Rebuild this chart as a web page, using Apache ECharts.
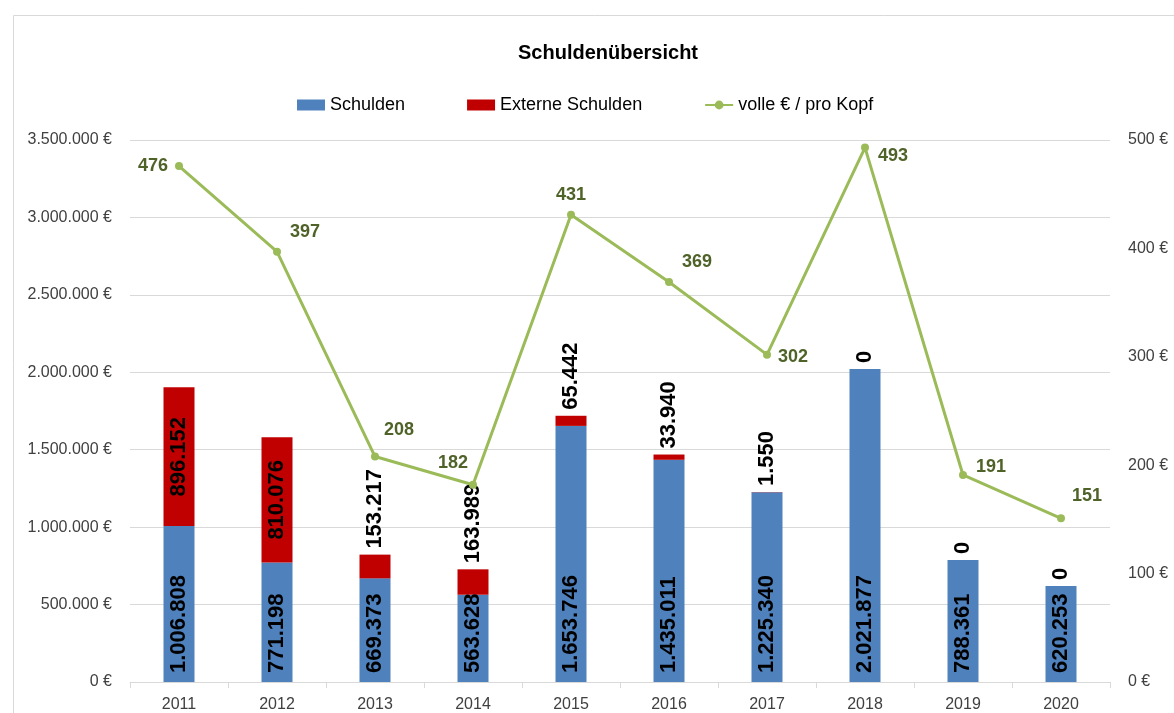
<!DOCTYPE html>
<html>
<head>
<meta charset="utf-8">
<script src="https://cdn.jsdelivr.net/npm/echarts@6/dist/echarts.min.js"></script>
<style>
  html, body { margin: 0; padding: 0; background: #fff; }
  #chart { width: 1174px; height: 713px; }
</style>
</head>
<body>
<div id="chart"></div>
<script>
// ── Data ──────────────────────────────────────────────────────────────────────
var years    = ['2011', '2012', '2013', '2014', '2015', '2016', '2017', '2018', '2019', '2020'];
var schulden = [1006808, 771198, 669373, 563628, 1653746, 1435011, 1225340, 2021877, 788361, 620253];
var extern   = [896152, 810076, 153217, 163989, 65442, 33940, 1550, 0, 0, 0];
var proKopf  = [476, 397, 208, 182, 431, 369, 302, 493, 191, 151];

// ── Look ──────────────────────────────────────────────────────────────────────
var C = {
  blue:  '#4f81bd',
  red:   '#c00000',
  green: '#9bbb59',
  dkgrn: '#4f6228',
  text:  '#000000',
  axis:  '#404040',
  grid:  '#d9d9d9'
};
var FONT = "'Liberation Sans', Arial, sans-serif";

// German thousands separator
function de(v) {
  return String(Math.round(v)).replace(/\B(?=(\d{3})+(?!\d))/g, '.');
}

// per-point label placement for the line (offsets in px)
var lineLabelPos = [
  { position: 'left',  offset: [-2, 0] },
  { position: 'right', offset: [4, -20] },
  { position: 'right', offset: [0, -26] },
  { position: 'top',   offset: [-20, -4] },
  { position: 'top',   offset: [0, -2] },
  { position: 'right', offset: [4, -20] },
  { position: 'right', offset: [2, 2] },
  { position: 'right', offset: [4, 8] },
  { position: 'right', offset: [4, -8] },
  { position: 'right', offset: [2, -22] }
];

var lineData = proKopf.map(function(v, i) {
  return { value: v, label: lineLabelPos[i] };
});

var externData = extern.map(function(v, i) {
  if (i < 2) {
    return { value: v, label: { position: 'inside', align: 'center', verticalAlign: 'middle' } };
  }
  return { value: v, label: { position: 'top', align: 'left', verticalAlign: 'middle', distance: 6 } };
});

var chart = echarts.init(document.getElementById('chart'), null, { renderer: 'canvas' });

chart.setOption({
  animation: false,
  backgroundColor: '#fff',
  textStyle: { fontFamily: FONT },
  graphic: [{
    type: 'rect',
    left: 11, top: 13,
    shape: { width: 1300, height: 900 },
    style: { fill: 'none', stroke: C.grid, lineWidth: 1 },
    silent: true
  }],
  title: {
    text: 'Schuldenübersicht',
    left: 513, top: 38,
    textStyle: { fontFamily: FONT, fontSize: 20, fontWeight: 'bold', color: C.text }
  },
  legend: {
    left: 292, top: 91,
    itemGap: 62,
    itemWidth: 28, itemHeight: 11,
    textStyle: { fontFamily: FONT, fontSize: 18, color: C.text },
    data: [
      { name: 'Schulden', icon: 'rect' },
      { name: 'Externe Schulden', icon: 'rect' },
      { name: 'volle € / pro Kopf' }
    ]
  },
  grid: { left: 130, right: 64, top: 140, bottom: 28, containLabel: false },
  xAxis: {
    type: 'category',
    data: years,
    boundaryGap: true,
    axisLine: { lineStyle: { color: C.grid } },
    axisTick: { show: true, length: 6, lineStyle: { color: C.grid } },
    axisLabel: { color: C.axis, fontSize: 16, margin: 15, fontFamily: FONT }
  },
  yAxis: [{
    type: 'value',
    min: 0, max: 3500000, interval: 500000,
    axisLine: { show: false },
    axisTick: { show: false },
    splitLine: { lineStyle: { color: C.grid } },
    axisLabel: {
      color: C.axis, fontSize: 16, margin: 18, fontFamily: FONT,
      formatter: function(v) { return de(v) + ' €'; }
    }
  }, {
    type: 'value',
    min: 0, max: 500, interval: 100,
    axisLine: { show: false },
    axisTick: { show: false },
    splitLine: { show: false },
    axisLabel: {
      color: C.axis, fontSize: 16, margin: 18, fontFamily: FONT,
      formatter: function(v) { return v + ' €'; }
    }
  }],
  series: [{
    name: 'Schulden',
    type: 'bar',
    stack: 'debt',
    barWidth: 31,
    data: schulden,
    itemStyle: { color: C.blue },
    label: {
      show: true,
      position: 'insideBottom',
      rotate: 90,
      align: 'left',
      verticalAlign: 'middle',
      distance: 9,
      fontFamily: FONT, fontSize: 22, fontWeight: 'bold', color: C.text,
      formatter: function(p) { return de(p.value); }
    }
  }, {
    name: 'Externe Schulden',
    type: 'bar',
    stack: 'debt',
    barWidth: 31,
    data: externData,
    itemStyle: { color: C.red },
    label: {
      show: true,
      rotate: 90,
      fontFamily: FONT, fontSize: 22, fontWeight: 'bold', color: C.text,
      formatter: function(p) { return de(p.value); }
    }
  }, {
    name: 'volle € / pro Kopf',
    type: 'line',
    yAxisIndex: 1,
    data: lineData,
    symbol: 'circle',
    symbolSize: 8,
    lineStyle: { color: C.green, width: 3 },
    itemStyle: { color: C.green },
    label: {
      show: true,
      fontFamily: FONT, fontSize: 18, fontWeight: 'bold', color: C.dkgrn
    },
    z: 5
  }]
});
</script>
</body>
</html>
